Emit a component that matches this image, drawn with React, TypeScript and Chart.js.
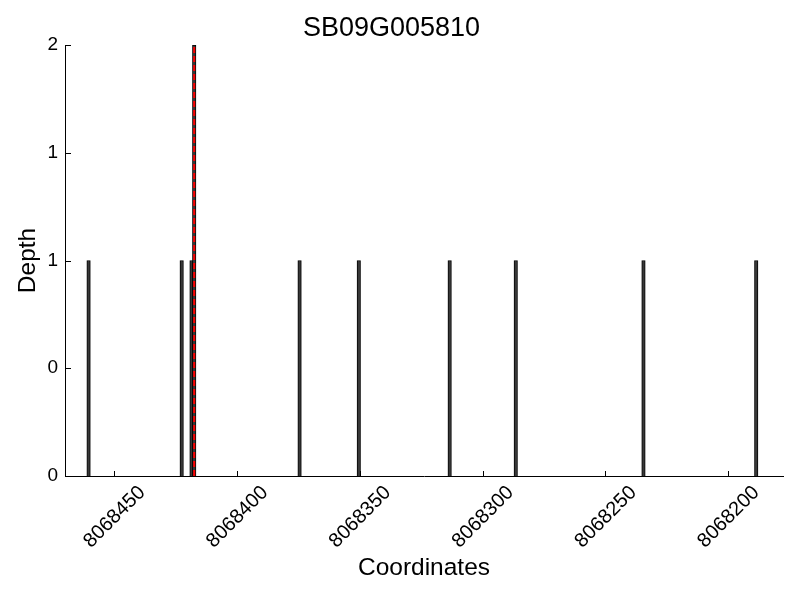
import React, { useEffect, useRef } from "react";
import { Chart, registerables } from "chart.js";

Chart.register(...registerables);

const chartTitle = "SB09G005810";
const xAxisTitle = "Coordinates";
const yAxisTitle = "Depth";

const positions = [8068460.4, 8068422.5, 8068418.5, 8068417.4, 8068374.5, 8068350.4, 8068313.4, 8068286.5, 8068234.5, 8068188.6];
const depths = [1, 1, 1, 2, 1, 1, 1, 1, 1, 1];

const markerPosition = 8068417.4;
const markerDepths = [0, 2];

const xTickValues = [8068450, 8068400, 8068350, 8068300, 8068250, 8068200];
const xRange = [8068177.7, 8068470];
const yTickValues = [0, 0.5, 1, 1.5, 2];
const yTickLabels = ["0", "0", "1", "1", "2"];

const FONT = "'Liberation Sans', Arial, Helvetica, sans-serif";

const inwardTicks = {
  id: "inwardTicks",
  afterDatasetsDraw(chart: any) {
    const { ctx, chartArea, scales } = chart;
    ctx.save();
    ctx.strokeStyle = "#000";
    ctx.lineWidth = 1;
    ctx.beginPath();
    for (const v of xTickValues) {
      const px = Math.round(scales.x.getPixelForValue(v)) + 0.5;
      ctx.moveTo(px, chartArea.bottom);
      ctx.lineTo(px, chartArea.bottom - 5);
    }
    for (const v of yTickValues) {
      const py = Math.round(scales.y.getPixelForValue(v)) + 0.5;
      ctx.moveTo(chartArea.left, py);
      ctx.lineTo(chartArea.left + 6, py);
    }
    ctx.stroke();
    ctx.restore();
  },
};

export default function App() {
  const ref = useRef<HTMLCanvasElement | null>(null);

  useEffect(() => {
    if (!ref.current) return;
    Chart.defaults.font.family = FONT;
    const chart = new Chart(ref.current, {
      type: "bar",
      data: {
        datasets: [
          {
            type: "line",
            data: markerDepths.map((y) => ({ x: markerPosition, y })),
            borderColor: "#ff0000",
            borderWidth: 2,
            borderDash: [6, 3],
            pointRadius: 0,
            fill: false,
            order: 0,
          } as any,
          {
            type: "bar",
            data: positions.map((x, i) => ({ x, y: depths[i] })),
            backgroundColor: "#383838",
            borderColor: "#000",
            borderWidth: 1,
            barThickness: 3.5,
            order: 1,
          } as any,
        ],
      },
      options: {
        responsive: false,
        animation: false,
        layout: { padding: { left: 0, right: 17, top: 0, bottom: 0 } },
        plugins: {
          legend: { display: false },
          tooltip: { enabled: false },
          title: {
            display: true,
            text: chartTitle,
            color: "#000",
            font: { size: 27, weight: "normal", family: FONT },
            padding: { top: 12, bottom: 0.6 },
          },
        },
        scales: {
          x: {
            type: "linear",
            reverse: true,
            offset: false,
            min: xRange[0],
            max: xRange[1],
            afterBuildTicks: (scale: any) => {
              scale.ticks = xTickValues.map((value) => ({ value }));
            },
            afterFit: (scale: any) => {
              scale.height = 124;
            },
            ticks: {
              autoSkip: false,
              minRotation: 45,
              maxRotation: 45,
              padding: 5,
              labelOffset: 28,
              color: "#000",
              font: { size: 20, family: FONT },
              callback: (v: any) => String(v),
            },
            grid: { display: false, drawTicks: false, offset: false },
            border: { display: true, color: "#000", width: 1 },
            title: {
              display: true,
              text: xAxisTitle,
              color: "#000",
              font: { size: 24.5, family: FONT },
              padding: { top: 0, bottom: 17 },
            },
          },
          y: {
            type: "linear",
            min: 0,
            max: 2,
            afterBuildTicks: (scale: any) => {
              scale.ticks = yTickValues.map((value) => ({ value }));
            },
            afterFit: (scale: any) => {
              scale.width = 65;
            },
            ticks: {
              padding: 7,
              color: "#000",
              font: { size: 19, family: FONT },
              callback: (_v: any, i: number) => yTickLabels[i],
            },
            grid: { display: false, drawTicks: false },
            border: { display: true, color: "#000", width: 1 },
            title: {
              display: true,
              text: yAxisTitle,
              color: "#000",
              font: { size: 24.5, family: FONT },
              padding: { top: 14, bottom: 0 },
            },
          },
        },
      },
      plugins: [inwardTicks],
    } as any);
    return () => chart.destroy();
  }, []);

  return (
    <div style={{ position: "absolute", left: 0, top: 0, width: 800, height: 600, background: "#fff" }}>
      <canvas ref={ref} width={800} height={600} style={{ display: "block" }} />
    </div>
  );
}
